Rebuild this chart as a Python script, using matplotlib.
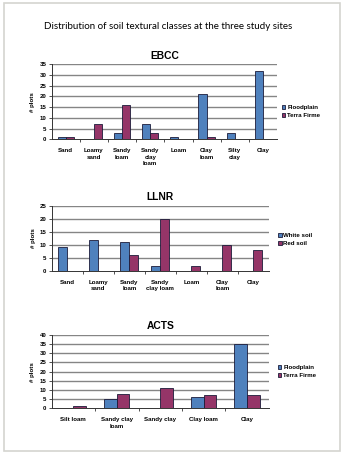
import numpy as np
import matplotlib.pyplot as plt
from matplotlib.patches import Rectangle

# EBCC site
ebcc_classes = ["Sand", "Loamy\nsand", "Sandy\nloam", "Sandy\nclay\nloam",
                "Loam", "Clay\nloam", "Silty\nclay", "Clay"]
ebcc_floodplain = [1, 0, 3, 7, 1, 21, 3, 32]
ebcc_terra_firme = [1, 7, 16, 3, 0, 1, 0, 0]

# LLNR site
llnr_classes = ["Sand", "Loamy\nsand", "Sandy\nloam", "Sandy\nclay loam",
                "Loam", "Clay\nloam", "Clay"]
llnr_white = [9, 12, 11, 2, 0, 0, 0]
llnr_red = [0, 0, 6, 20, 2, 10, 8]

# ACTS site
acts_classes = ["Silt loam", "Sandy clay\nloam", "Sandy clay", "Clay loam", "Clay"]
acts_floodplain = [0, 5, 0, 6, 35]
acts_terra_firme = [1, 8, 11, 7, 7]

BLUE = "#4F81BD"
MAROON = "#953568"
EDGE = "#1c1c3a"
GRID = "#858585"

plt.rcParams["font.family"] = ["Liberation Sans", "DejaVu Sans"]

fig = plt.figure(figsize=(3.42, 4.53), dpi=100)
fig.patch.set_facecolor("white")

# light page frame
fig.add_artist(Rectangle((4 / 342, 1 - 451 / 453), 336 / 342, 448 / 453,
                         transform=fig.transFigure, fill=False,
                         edgecolor="#d4d4d0", lw=1.2))

fig.text(0.491, 1 - 26.5 / 453,
         "Distribution of soil textural classes at the three study sites",
         ha="center", va="center", fontsize=7.0, family=["Lato", "DejaVu Sans"])


def panel(rect, title, classes, s1, s2, names, ymax, step, legend_pos):
    ax = fig.add_axes(rect)
    x = np.arange(len(classes))
    w = 0.29
    ax.bar(x - w / 2, s1, w, color=BLUE, edgecolor=EDGE, lw=0.6, zorder=3, label=names[0])
    ax.bar(x + w / 2, s2, w, color=MAROON, edgecolor=EDGE, lw=0.6, zorder=3, label=names[1])
    ax.set_xlim(-0.5, len(classes) - 0.5)
    ax.set_ylim(0, ymax)
    ax.set_yticks(np.arange(0, ymax + 1, step))
    for t in np.arange(step, ymax + 1, step):
        ax.axhline(t, color=GRID, lw=1.0, zorder=1)
    ax.set_xticks(x)
    ax.set_xticklabels(classes, fontsize=4.4, fontweight="bold", linespacing=1.35)
    ax.set_xticks(np.arange(0.5, len(classes) - 0.5, 1), minor=True)
    ax.tick_params(axis="x", which="major", length=0, pad=6.5)
    ax.tick_params(axis="x", which="minor", length=2.2, width=0.6, color="#333333")
    ax.tick_params(axis="y", length=2.2, width=0.6, pad=1.5, labelsize=4.4, color="#333333")
    for lab in ax.get_yticklabels():
        lab.set_fontweight("bold")
    for side in ("top", "right"):
        ax.spines[side].set_visible(False)
    for side in ("left", "bottom"):
        ax.spines[side].set_color("#333333")
        ax.spines[side].set_linewidth(0.7)
    ax.set_ylabel("# plots", fontsize=4.4, fontweight="bold", labelpad=3)
    ax.set_title(title, fontsize=7.4, fontweight="bold", pad=4)
    ax.legend(loc="center left", bbox_to_anchor=legend_pos,
              frameon=False, prop={"weight": "bold", "size": 4.4},
              handlelength=0.6, handleheight=0.6, handletextpad=0.3,
              labelspacing=0.55, borderaxespad=0)
    return ax


panel([0.151, 0.6925, 0.659, 0.1656], "EBCC", ebcc_classes,
      ebcc_floodplain, ebcc_terra_firme, ["Floodplain", "Terra Firme"],
      35, 5, (1.01, 0.37))
panel([0.151, 0.4024, 0.6355, 0.1429], "LLNR", llnr_classes,
      llnr_white, llnr_red, ["White soil", "Red soil"],
      25, 5, (1.03, 0.48))
panel([0.151, 0.0987, 0.635, 0.1618], "ACTS", acts_classes,
      acts_floodplain, acts_terra_firme, ["Floodplain", "Terra Firme"],
      40, 5, (1.03, 0.5))

fig.savefig("out.png", dpi=100)
